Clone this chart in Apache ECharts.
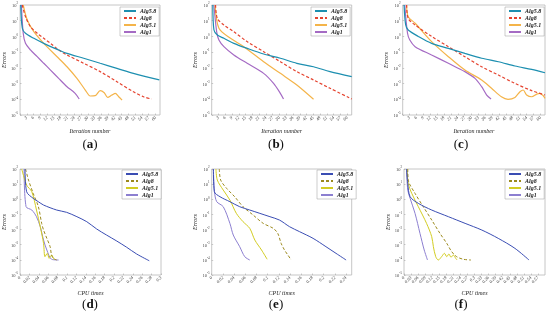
<!DOCTYPE html>
<html><head><meta charset="utf-8">
<script src="https://cdn.jsdelivr.net/npm/echarts@6/dist/echarts.min.js"></script>
<style>html,body{margin:0;padding:0;background:#fff}#c{width:550px;height:322px}</style>
</head><body><div id="c"></div>
<script>
// ---------------- data (x, log10(error)) ----------------
const seriesNames = ['Alg5.8', 'Alg8', 'Alg5.1', 'Alg1'];
const panelLetters = ['a', 'b', 'c', 'd', 'e', 'f'];
const yTickExponents = [-5, -4, -3, -2, -1, 0, 1, 2];
const xNameTop = 'Iteration number';
const xNameBottom = 'CPU times';
const yName = 'Errors';

// panel (a): iteration number
const a_alg58 = [[0.3,2],[1,0.52],[2.4,0.2],[6.1,-0.12],[10.5,-0.44],[17.1,-0.86],[20.8,-1.08],[28.2,-1.39],[35.5,-1.71],[42.9,-2.03],[50.2,-2.35],[61.7,-2.77]];
const a_alg8  = [[1,2],[2.4,1.26],[4.6,0.62],[7.6,0.2],[10.5,-0.12],[13.5,-0.44],[17.1,-0.86],[20.8,-1.18],[28.2,-1.71],[35.5,-2.24],[42.9,-2.88],[50.2,-3.52],[54.7,-3.84],[58.3,-3.98]];
const a_alg51 = [[1.4,2],[3.2,1.04],[6.1,0.3],[10.5,-0.44],[17.1,-1.39],[20.8,-1.93],[25.2,-2.67],[28.9,-3.41],[31.1,-3.79],[33.3,-3.77],[35.5,-3.45],[37.3,-3.58],[38.8,-3.88],[40.7,-3.73],[42.2,-3.62],[43.7,-3.84],[45.2,-4.05]];
const a_alg1  = [[0.6,2],[1.4,0.2],[2.4,-0.44],[4.6,-0.86],[7.6,-1.29],[10.5,-1.71],[13.5,-2.14],[17.1,-2.67],[20.8,-3.2],[24.4,-3.62],[26.2,-3.98]];
// panel (b)
const b_alg58 = [[0.5,2],[1,0.41],[2.5,0.09],[5.4,-0.12],[9.8,-0.44],[15.7,-0.76],[23,-1.12],[30.4,-1.39],[37.7,-1.71],[45.1,-1.93],[52.4,-2.24],[62,-2.56]];
const b_alg8  = [[1.7,2],[2.5,1.15],[5.4,0.73],[9.8,0.3],[15.7,-0.33],[23,-0.97],[30.4,-1.61],[37.7,-2.24],[45.1,-2.77],[52.4,-3.3],[62,-3.98]];
const b_alg51 = [[1.5,2],[3.2,0.52],[8.3,-0.12],[14.2,-0.65],[23,-1.61],[30.4,-2.35],[37.7,-3.09],[45.1,-4.0]];
const b_alg1  = [[1,2],[2.2,0.3],[3.2,-0.23],[5.4,-0.65],[9.8,-1.18],[15.7,-1.71],[23,-2.35],[27.4,-2.99],[30.4,-3.62],[31.8,-3.98]];
// panel (c)
const c_alg58 = [[0.6,2],[1.3,0.73],[2.4,0.41],[6.8,0.0],[12.6,-0.44],[19.9,-0.76],[27.1,-1.08],[34.4,-1.39],[41.7,-1.61],[48.9,-1.88],[56.2,-2.1],[62,-2.31]];
const c_alg8  = [[1.7,2],[2.4,1.15],[5.4,0.73],[12.6,0.0],[19.9,-0.65],[27.1,-1.29],[34.4,-1.93],[41.7,-2.46],[48.9,-2.99],[56.2,-3.45],[62,-3.73]];
const c_alg51 = [[1.7,2],[2.4,1.26],[5.4,0.84],[12.6,-0.33],[19.9,-1.29],[27.1,-2.14],[34.4,-2.77],[38.7,-3.3],[43,-3.84],[45.9,-4.0],[48.9,-3.88],[51.1,-3.52],[52.5,-3.41],[54,-3.73],[56.2,-3.84],[58.4,-3.67],[59.8,-3.62],[61.3,-3.79],[62,-3.94]];
const c_alg1  = [[0.9,2],[2.1,0.2],[3.1,-0.23],[5.4,-0.65],[12.6,-1.18],[19.9,-1.71],[27.1,-2.24],[31.5,-2.67],[34.4,-3.2],[36.6,-3.73],[38.5,-3.98]];
// panel (d): CPU time
const d_alg58 = [[0.0106,2],[0.014,0.5],[0.028,0.06],[0.039,-0.16],[0.05,-0.38],[0.078,-0.71],[0.099,-0.86],[0.121,-1.15],[0.142,-1.48],[0.163,-1.96],[0.184,-2.36],[0.206,-2.76],[0.227,-3.17],[0.248,-3.61],[0.275,-4.06]];
const d_alg8  = [[0.0117,2],[0.018,1.27],[0.028,0.39],[0.039,-0.49],[0.046,-1.59],[0.05,-2.03],[0.057,-2.58],[0.064,-3.13],[0.067,-3.68],[0.071,-3.9],[0.078,-4.01]];
const d_alg51 = [[0.0036,2],[0.014,0.94],[0.025,0.5],[0.035,-0.71],[0.043,-1.81],[0.05,-2.91],[0.053,-3.79],[0.058,-3.57],[0.062,-3.9],[0.067,-3.68],[0.072,-3.97]];
const d_alg1  = [[0.0085,2],[0.0128,-0.49],[0.025,-0.71],[0.035,-1.15],[0.043,-1.81],[0.05,-2.69],[0.057,-3.35],[0.067,-3.96],[0.082,-4.01]];
// panel (e)
const e_alg58 = [[0.003,2],[0.0047,0.5],[0.0148,0.17],[0.0325,-0.16],[0.05,-0.49],[0.068,-0.71],[0.086,-0.93],[0.104,-1.15],[0.121,-1.37],[0.139,-1.81],[0.157,-2.14],[0.181,-2.58],[0.204,-3.13],[0.222,-3.57],[0.24,-4.01]];
const e_alg8  = [[0.0136,2],[0.016,1.27],[0.0267,0.72],[0.041,0.17],[0.056,-0.49],[0.074,-1.04],[0.092,-1.59],[0.11,-1.92],[0.118,-2.25],[0.124,-2.91],[0.13,-3.35],[0.136,-3.68],[0.142,-4.01]];
const e_alg51 = [[0.0076,2],[0.01,1.27],[0.0206,0.61],[0.0325,-0.05],[0.044,-0.93],[0.056,-1.48],[0.068,-1.92],[0.077,-2.69],[0.089,-3.35],[0.099,-3.96]];
const e_alg1  = [[0.003,2],[0.005,0.5],[0.009,-0.16],[0.0206,-0.49],[0.0325,-1.59],[0.0385,-2.36],[0.05,-3.13],[0.059,-3.79],[0.068,-4.01]];
// panel (f)
const f_alg58 = [[0.011,2],[0.016,1.05],[0.026,0.17],[0.061,-0.27],[0.118,-0.71],[0.189,-1.15],[0.26,-1.59],[0.331,-2.03],[0.401,-2.58],[0.472,-3.24],[0.532,-4.01]];
const f_alg8  = [[0.016,2],[0.018,1.27],[0.047,0.39],[0.082,-0.49],[0.118,-1.37],[0.153,-2.25],[0.182,-2.91],[0.203,-3.46],[0.224,-3.79],[0.252,-3.96],[0.285,-4.01]];
const f_alg51 = [[0.014,2],[0.018,1.05],[0.033,0.39],[0.061,-0.49],[0.096,-1.59],[0.118,-2.47],[0.125,-3.13],[0.135,-3.79],[0.146,-4.01],[0.16,-3.79],[0.172,-3.57],[0.182,-3.79],[0.191,-3.61],[0.2,-3.83],[0.21,-3.68],[0.22,-3.9],[0.226,-4.01]];
const f_alg1  = [[0.011,2],[0.016,0.61],[0.026,0.06],[0.047,-0.93],[0.068,-2.25],[0.086,-3.35],[0.1,-4.01]];

const panelData = [
  [a_alg58, a_alg8, a_alg51, a_alg1],
  [b_alg58, b_alg8, b_alg51, b_alg1],
  [c_alg58, c_alg8, c_alg51, c_alg1],
  [d_alg58, d_alg8, d_alg51, d_alg1],
  [e_alg58, e_alg8, e_alg51, e_alg1],
  [f_alg58, f_alg8, f_alg51, f_alg1]
];
// x-axis ranges [min, max, interval]
const xRanges = [[0,62,3],[0,62,3],[0,62,3],[0,0.3,0.02],[0,0.25,0.02],[0,0.6,0.03]];

// ---------------- styling ----------------
const topColors = ['#1d8fb0', '#e5432f', '#f4b44a', '#a56bc4'];
const botColors = ['#3a4db3', '#9c8a1e', '#d2cc22', '#8c7fd0'];
const grids = [
  {left:19.5, top:5, width:140.5, height:110},
  {left:211.7, top:5, width:140, height:110},
  {left:402.7, top:5, width:142.3, height:110},
  {left:20, top:169, width:141, height:106},
  {left:211.7, top:169, width:140, height:106},
  {left:404, top:169, width:141, height:106}
];
const legendPos = [[120,7],[311,7],[505,7],[122,170],[317,170],[505,170]];
const subLabelPos = [[90,145],[276,145],[461,145],[90,305],[276,305],[461,305]];
const serif = 'Liberation Serif';

const option = {
  animation: false,
  backgroundColor: '#fff',
  grid: grids.map(g => Object.assign({show:true, borderColor:'#b8b8b8', borderWidth:0.8, backgroundColor:'#fff'}, g)),
  xAxis: grids.map((g, i) => ({
    type: 'value', gridIndex: i, position: 'bottom',
    min: xRanges[i][0], max: xRanges[i][1], interval: xRanges[i][2],
    name: i < 3 ? xNameTop : xNameBottom,
    nameLocation: 'middle', nameGap: i < 3 ? 13 : 15,
    nameTextStyle: {fontFamily: serif, fontStyle: 'italic', fontSize: 6, color: '#222'},
    axisLine: {show: false, onZero: false},
    axisTick: {show: true, inside: true, length: 1.5, lineStyle: {color: '#999', width: 0.5}},
    splitLine: {show: false},
    axisLabel: {
      rotate: 45, fontSize: 4.5, margin: 2, color: '#444', fontFamily: serif, fontStyle: 'italic',
      showMaxLabel: i === 3,
      formatter: v => (i < 3 && v === 0) ? '' : String(+v.toFixed(3))
    }
  })),
  yAxis: grids.map((g, i) => ({
    type: 'value', gridIndex: i, min: -5, max: 2, interval: 1, position: 'left',
    name: yName, nameLocation: 'middle', nameGap: 13,
    nameTextStyle: {fontFamily: serif, fontStyle: 'italic', fontSize: 6, color: '#222'},
    axisLine: {show: false, onZero: false},
    axisTick: {show: true, inside: true, length: 1.5, lineStyle: {color: '#999', width: 0.5}},
    splitLine: {show: false},
    axisLabel: {
      margin: 2, color: '#444',
      formatter: v => yTickExponents.includes(v) ? '{b|10}{s|' + v + '}' : '',
      rich: {
        b: {fontSize: 4.5, fontFamily: serif, color: '#444', padding: [2,0,0,0]},
        s: {fontSize: 3.2, fontFamily: serif, color: '#444', padding: [0,0,3,0]}
      }
    }
  })),
  legend: grids.map((g, i) => ({
    orient: 'vertical', left: legendPos[i][0], top: legendPos[i][1],
    data: seriesNames.map(n => i < 3 ? n : n + ' '),
    formatter: n => n.trim(),
    itemWidth: 12, itemHeight: 6, itemGap: 1, padding: [1,3,1,3],
    itemStyle: {opacity: 0},
    backgroundColor: '#fff', borderColor: '#999', borderWidth: 0.5,
    textStyle: {fontFamily: serif, fontStyle: 'italic', fontWeight: 'bold', fontSize: 6, color: '#222', padding: [0,0,0,-1]},
    selectedMode: false
  })),
  series: [],
  graphic: subLabelPos.map((p, i) => ({
    type: 'text', x: p[0], y: p[1],
    style: {
      text: '({b|' + panelLetters[i] + '})',
      font: '13px ' + serif, fill: '#111', align: 'center', verticalAlign: 'middle',
      rich: {b: {fontWeight: 'bold', fontSize: 13, fontFamily: serif, fill: '#111'}}
    }
  }))
};

panelData.forEach((sers, i) => {
  sers.forEach((data, k) => {
    const cols = i < 3 ? topColors : botColors;
    option.series.push({
      type: 'line', name: i < 3 ? seriesNames[k] : seriesNames[k] + ' ',
      xAxisIndex: i, yAxisIndex: i, data: data,
      symbol: 'none', smooth: 0.3, clip: true,
      lineStyle: {color: cols[k], width: i < 3 ? 1.2 : 1, type: k === 1 ? [3, 2] : 'solid'},
      itemStyle: {color: cols[k]},
      z: 4 - k
    });
  });
});

const chart = echarts.init(document.getElementById('c'), null, {renderer: 'canvas'});
chart.setOption(option);
</script>
</body></html>
